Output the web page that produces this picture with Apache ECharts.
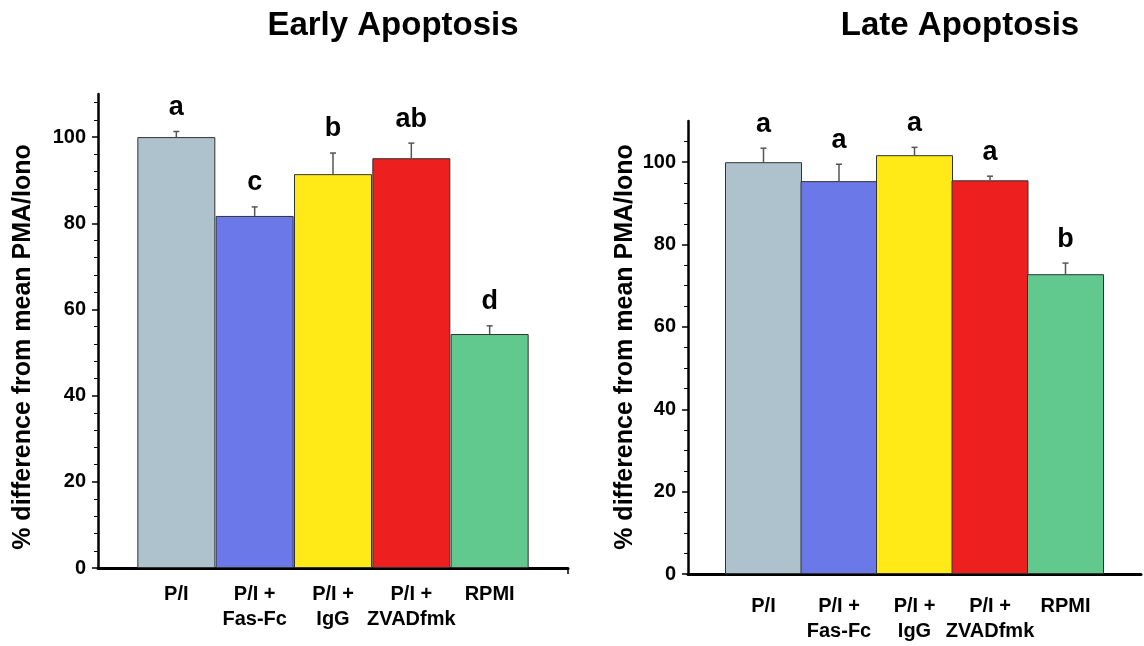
<!DOCTYPE html>
<html>
<head>
<meta charset="utf-8">
<script src="https://cdn.jsdelivr.net/npm/echarts@6/dist/echarts.min.js"></script>
<style>
  html, body { margin: 0; padding: 0; background: #fff; }
  #chart { width: 1144px; height: 646px; }
</style>
</head>
<body>
<div id="chart"></div>
<script>
const categories = ['', 'P/I', 'P/I +\nFas-Fc', 'P/I +\nIgG', 'P/I +\nZVADfmk', 'RPMI', ''];

const earlyValues = [100, 81.7, 91.4, 95.1, 54.3];
const earlyErrors = [1.3, 2.1, 4.9, 3.5, 1.9];
const earlyLetters = ['a', 'c', 'b', 'ab', 'd'];

const lateValues = [100, 95.4, 101.7, 95.6, 72.8];
const lateErrors = [3.4, 4.1, 1.9, 1.0, 2.7];
const lateLetters = ['a', 'a', 'a', 'a', 'b'];

const yTicks = [0, 20, 40, 60, 80, 100];

const barColors = ['#adc2cc', '#6a78e8', '#ffea17', '#ee1f1f', '#62c98e'];
const FONT = '"Liberation Sans", Arial, Helvetica, sans-serif';

const padEnds = (arr) => ['-', ...arr, '-'];

const errorData = (values, errors) =>
  values.map((v, i) => [i + 1, v, errors[i]]);

// letters per custom series index (series 2 and 3)
const errorSets = { 2: earlyLetters, 3: lateLetters };

const renderError = (params, api) => {
  const x = api.value(0);
  const v = api.value(1);
  const e = api.value(2);
  const letter = errorSets[params.seriesIndex][params.dataIndex];
  const base = api.coord([x, v]);
  const top = api.coord([x, v + e]);
  const lineStyle = { stroke: '#555', lineWidth: 1.5 };
  return {
    type: 'group',
    children: [
      { type: 'line', shape: { x1: base[0], y1: base[1], x2: top[0], y2: top[1] }, style: lineStyle },
      { type: 'line', shape: { x1: top[0] - 3, y1: top[1], x2: top[0] + 3, y2: top[1] }, style: lineStyle },
      {
        type: 'text',
        x: top[0],
        y: top[1] - 24,
        style: {
          text: letter,
          fill: '#000',
          font: 'bold 27px ' + FONT,
          align: 'center',
          verticalAlign: 'middle'
        }
      }
    ]
  };
};

const xAxisBase = (gridIndex, labelMargin, tickEnd) => ({
  type: 'category',
  gridIndex,
  data: categories,
  boundaryGap: false,
  axisLine: { lineStyle: { color: '#000', width: 3 } },
  axisTick: {
    show: tickEnd,
    interval: (i) => i === categories.length - 1,
    length: 6,
    lineStyle: { color: '#000', width: 1.5 }
  },
  axisLabel: {
    interval: 0,
    margin: labelMargin,
    color: '#000',
    fontFamily: FONT,
    fontWeight: 'bold',
    fontSize: 20,
    lineHeight: 25
  },
  splitLine: { show: false }
});

const yAxisBase = (gridIndex, minorSplit) => ({
  type: 'value',
  gridIndex,
  min: yTicks[0],
  max: 110,
  interval: yTicks[1] - yTicks[0],
  axisLine: { show: true, lineStyle: { color: '#000', width: 2.5 } },
  axisTick: { show: true, customValues: yTicks, length: 6, lineStyle: { color: '#000', width: 1.5 } },
  minorTick: { show: true, splitNumber: minorSplit, length: 4, lineStyle: { color: '#000', width: 1 } },
  axisLabel: {
    customValues: yTicks,
    margin: 12,
    color: '#000',
    fontFamily: FONT,
    fontWeight: 'bold',
    fontSize: 20
  },
  splitLine: { show: false }
});

const barSeries = (idx, values, width) => ({
  type: 'bar',
  xAxisIndex: idx,
  yAxisIndex: idx,
  data: padEnds(values),
  barWidth: width,
  itemStyle: {
    color: (p) => barColors[p.dataIndex - 1],
    borderColor: '#333',
    borderWidth: 1
  },
  silent: true
});

const yName = (x, y) => ({
  type: 'text',
  x,
  y,
  rotation: Math.PI / 2,
  style: {
    text: '% difference from mean PMA/Iono',
    fill: '#000',
    font: 'bold 25px ' + FONT,
    align: 'center',
    verticalAlign: 'middle'
  }
});

const chart = echarts.init(document.getElementById('chart'));

chart.setOption({
  backgroundColor: '#fff',
  animation: false,
  title: [
    {
      text: 'Early Apoptosis',
      left: 393,
      top: 9,
      padding: 0,
      textAlign: 'center',
      textStyle: { fontFamily: FONT, fontWeight: 'bold', fontSize: 33, color: '#000' }
    },
    {
      text: 'Late Apoptosis',
      left: 960,
      top: 9,
      padding: 0,
      textAlign: 'center',
      textStyle: { fontFamily: FONT, fontWeight: 'bold', fontSize: 33, color: '#000' }
    }
  ],
  grid: [
    { left: 98, top: 94, width: 470, height: 474 },
    { left: 688, top: 121, width: 460, height: 453 }
  ],
  xAxis: [xAxisBase(0, 14, true), xAxisBase(1, 20, false)],
  yAxis: [yAxisBase(0, 5), yAxisBase(1, 4)],
  graphic: [yName(23, 347), yName(625, 347)],
  series: [
    barSeries(0, earlyValues, 78),
    barSeries(1, lateValues, 77),
    {
      type: 'custom',
      xAxisIndex: 0,
      yAxisIndex: 0,
      data: errorData(earlyValues, earlyErrors),
      renderItem: renderError,
      silent: true,
      z: 3
    },
    {
      type: 'custom',
      xAxisIndex: 1,
      yAxisIndex: 1,
      data: errorData(lateValues, lateErrors),
      renderItem: renderError,
      silent: true,
      z: 3
    }
  ]
});
</script>
</body>
</html>
